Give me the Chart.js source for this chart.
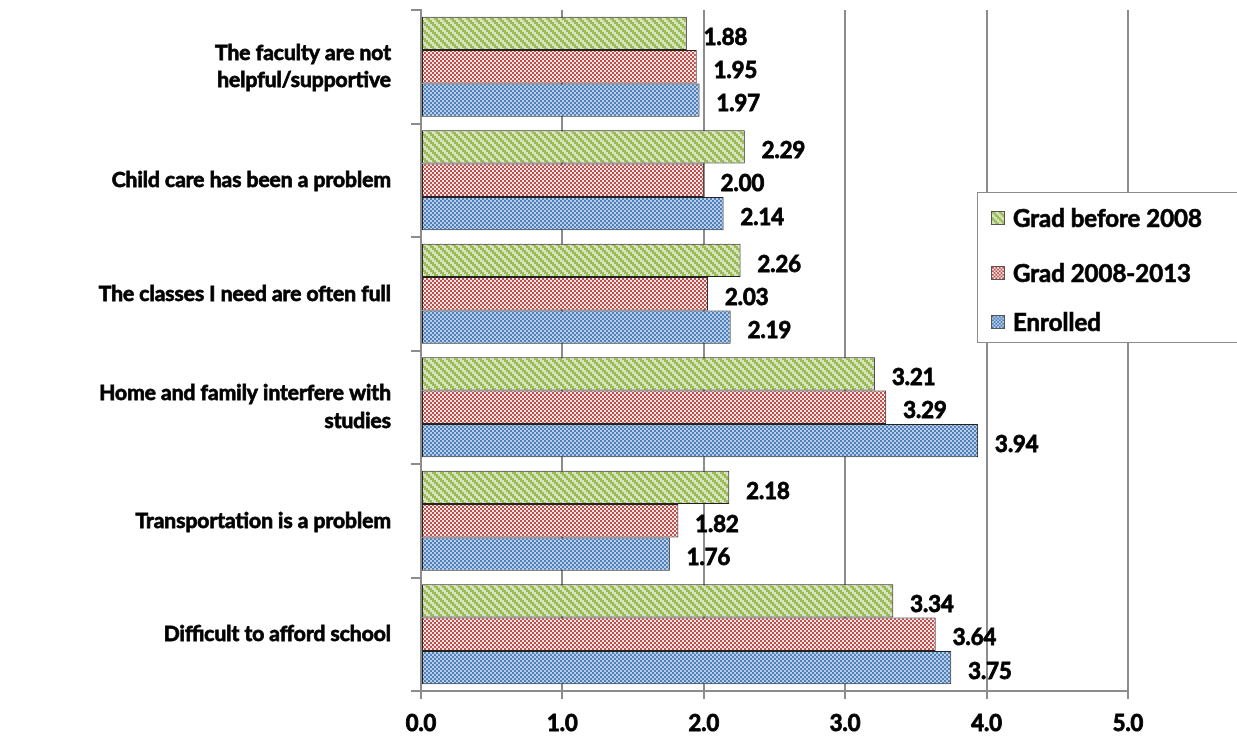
<!DOCTYPE html>
<html>
<head>
<meta charset="utf-8">
<script src="https://cdn.jsdelivr.net/npm/chart.js@4.4.0/dist/chart.umd.min.js"></script>
<style>
  html, body { margin: 0; padding: 0; background: #fff; }
  #wrap { position: relative; width: 1237px; height: 746px; }
  #legend {
    position: absolute; left: 977px; top: 192px; width: 270px; height: 151px;
    border: 1px solid #8c8c8c; background: #fff; box-sizing: border-box;
    font: bold 24px/29px Lato, "Open Sans", sans-serif; color: #000;
    -webkit-text-stroke: 0.7px #000;
  }
  .item { position: absolute; left: 13px; display: flex; align-items: center; }
  .item canvas { width: 14px; height: 14px; margin-right: 8px; border: 1px solid #555; box-sizing: border-box; }
</style>
</head>
<body>
<div id="wrap">
  <canvas id="myChart" width="1237" height="746"></canvas>
  <div id="legend"></div>
</div>
<script>
const categories = [
  ["The faculty are not", "helpful/supportive"],
  "Child care has been a problem",
  "The classes I need are often full",
  ["Home and family interfere with", "studies"],
  "Transportation is a problem",
  "Difficult to afford school"
];
const seriesNames = ["Grad before 2008", "Grad 2008-2013", "Enrolled"];
const gradBefore2008 = [1.88, 2.29, 2.26, 3.21, 2.18, 3.34];
const grad2008to2013 = [1.95, 2.00, 2.03, 3.29, 1.82, 3.64];
const enrolled = [1.97, 2.14, 2.19, 3.94, 1.76, 3.75];
const xTicks = [0, 1, 2, 3, 4, 5];

const FONT = "Lato, 'Open Sans', sans-serif";

function makePattern(kind) {
  const c = document.createElement("canvas");
  const x = c.getContext("2d");
  if (kind === "green") {
    c.width = 8; c.height = 8;
    x.fillStyle = "#d7e4bd"; x.fillRect(0, 0, 8, 8);
    x.fillStyle = "#9bbb59";
    for (let r = 0; r < 4; r++) {
      for (let col = 0; col < 4; col++) {
        const k = ((col - r) % 4 + 4) % 4;
        if (k < 2) x.fillRect(col * 2, r * 2, 2, 2);
      }
    }
  } else if (kind === "red") {
    c.width = 4; c.height = 4;
    x.fillStyle = "#f6e4e3"; x.fillRect(0, 0, 4, 4);
    x.fillStyle = "#c0504d";
    x.fillRect(0, 0, 2, 2); x.fillRect(2, 2, 2, 2);
  } else {
    c.width = 4; c.height = 4;
    x.fillStyle = "#4f81bd"; x.fillRect(0, 0, 4, 4);
    x.fillStyle = "#b9cde5";
    x.fillRect(2, 0, 2, 2); x.fillRect(0, 2, 2, 2);
  }
  return c;
}

const ctx = document.getElementById("myChart").getContext("2d");
const patterns = ["green", "red", "blue"].map((k) => makePattern(k));
const fills = patterns.map((p) => ctx.createPattern(p, "repeat"));
const values = [gradBefore2008, grad2008to2013, enrolled];

const valueLabels = {
  id: "valueLabels",
  afterDatasetsDraw(chart) {
    const c = chart.ctx;
    c.save();
    c.font = "bold 22px " + FONT;
    c.fillStyle = "#000";
    c.strokeStyle = "#000";
    c.lineWidth = 0.9;
    c.textBaseline = "middle";
    chart.data.datasets.forEach((ds, i) => {
      chart.getDatasetMeta(i).data.forEach((bar, j) => {
        const t = ds.data[j].toFixed(2);
        c.fillText(t, bar.x + 17, bar.y + 4);
        c.strokeText(t, bar.x + 17, bar.y + 4);
      });
    });
    c.restore();
  }
};

new Chart(ctx, {
  type: "bar",
  data: {
    labels: categories,
    datasets: seriesNames.map((name, i) => ({
      label: name,
      data: values[i],
      backgroundColor: fills[i],
      borderColor: "#222",
      borderWidth: 1,
      borderSkipped: false,
      barPercentage: 1,
      categoryPercentage: 0.88
    }))
  },
  options: {
    indexAxis: "y",
    responsive: false,
    animation: false,
    layout: { padding: { top: 10, right: 109, left: 0, bottom: 0 } },
    plugins: { legend: { display: false }, tooltip: { enabled: false } },
    scales: {
      x: {
        min: 0, max: 5,
        afterBuildTicks(axis) { axis.ticks = xTicks.map((v) => ({ value: v })); },
        afterFit(axis) { axis.height = 55; axis.paddingLeft = 0; axis.paddingRight = 0; },
        border: { color: "#8c8c8c", width: 2 },
        grid: { color: "#8c8c8c", lineWidth: 2, tickLength: 8, drawTicks: true },
        ticks: {
          color: "#000",
          textStrokeColor: "#000",
          textStrokeWidth: 0.9,
          font: { family: FONT, size: 22, weight: "bold" },
          padding: 12,
          callback: (v) => Number(v).toFixed(1)
        }
      },
      y: {
        afterFit(axis) { axis.width = 421; axis.paddingTop = 0; axis.paddingBottom = 0; },
        border: { color: "#8c8c8c", width: 2 },
        grid: { offset: true, drawOnChartArea: false, color: "#8c8c8c", lineWidth: 2, tickLength: 10 },
        ticks: {
          color: "#000",
          textStrokeColor: "#000",
          textStrokeWidth: 0.8,
          font: { family: FONT, size: 21, weight: "bold", lineHeight: 1.3 },
          padding: 20
        }
      }
    }
  },
  plugins: [valueLabels]
});

const legend = document.getElementById("legend");
const tops = [10, 65, 114];
seriesNames.forEach((name, i) => {
  const item = document.createElement("div");
  item.className = "item";
  item.style.top = tops[i] + "px";
  const sw = document.createElement("canvas");
  sw.width = 14; sw.height = 14;
  const sctx = sw.getContext("2d");
  sctx.fillStyle = sctx.createPattern(patterns[i], "repeat");
  sctx.fillRect(0, 0, 14, 14);
  const txt = document.createElement("span");
  txt.textContent = name;
  item.appendChild(sw);
  item.appendChild(txt);
  legend.appendChild(item);
});
</script>
</body>
</html>
